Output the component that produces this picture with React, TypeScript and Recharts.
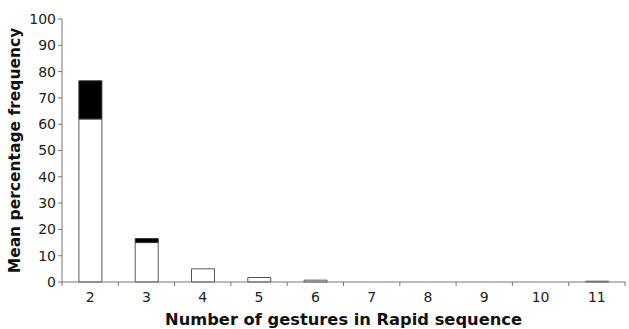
import { BarChart, Bar, XAxis, YAxis, Label } from "recharts";

const categories = ["2", "3", "4", "5", "6", "7", "8", "9", "10", "11"];
const whiteValues = [62, 15, 5, 1.7, 0.7, 0, 0, 0, 0, 0.3];
const blackValues = [14.5, 1.5, 0, 0, 0, 0, 0, 0, 0, 0];
const yTicks = [0, 10, 20, 30, 40, 50, 60, 70, 80, 90, 100];

const data = categories.map((c, i) => ({
  n: c,
  white: whiteValues[i],
  black: blackValues[i],
}));

const font = "'DejaVu Sans', Verdana, sans-serif";
const axisColor = "#777";

// Excel style: tick marks sit on the category boundaries, not the centres
// eslint-disable-next-line @typescript-eslint/no-explicit-any
function BoundaryTick({ x, y, payload, index }: any) {
  const band = 563 / categories.length;
  return (
    <g>
      <line x1={x + band / 2} x2={x + band / 2} y1={y - 8} y2={y - 4} stroke={axisColor} />
      {index === 0 && <line x1={x - band / 2} x2={x - band / 2} y1={y - 8} y2={y - 4} stroke={axisColor} />}
      <text x={x} y={y + 12} textAnchor="middle" fontSize={14} fill="#222" fontFamily={font}>
        {payload.value}
      </text>
    </g>
  );
}

export default function App() {
  return (
    <div style={{ position: "absolute", left: 0, top: 0, background: "#fff" }}>
      <BarChart
        width={629}
        height={329}
        data={data}
        margin={{ top: 19, right: 4, bottom: 0, left: 0 }}
        barCategoryGap="30%"
      >
        <XAxis
          dataKey="n"
          tick={<BoundaryTick />}
          tickLine={false}
          axisLine={{ stroke: axisColor }}
          height={47}
          interval={0}
        >
          <Label
            value="Number of gestures in Rapid sequence"
            position="insideBottom"
            offset={4}
            style={{ fontSize: 16.3, fontWeight: 700, fill: "#111", fontFamily: font }}
          />
        </XAxis>
        <YAxis
          domain={[0, 100]}
          ticks={yTicks}
          interval={0}
          width={62}
          tick={{ fontSize: 14, fill: "#222", fontFamily: font }}
          tickLine={{ stroke: axisColor }}
          tickSize={4}
          axisLine={{ stroke: axisColor }}
        >
          <Label
            value="Mean percentage frequency"
            angle={-90}
            position="insideLeft"
            offset={14}
            style={{ fontSize: 15.5, fontWeight: 700, fill: "#111", fontFamily: font, textAnchor: "middle" }}
          />
        </YAxis>
        <Bar dataKey="white" stackId="a" fill="#fff" stroke="#555" strokeWidth={1} isAnimationActive={false} />
        <Bar dataKey="black" stackId="a" fill="#000" stroke="#333" strokeWidth={1} isAnimationActive={false} />
      </BarChart>
    </div>
  );
}
